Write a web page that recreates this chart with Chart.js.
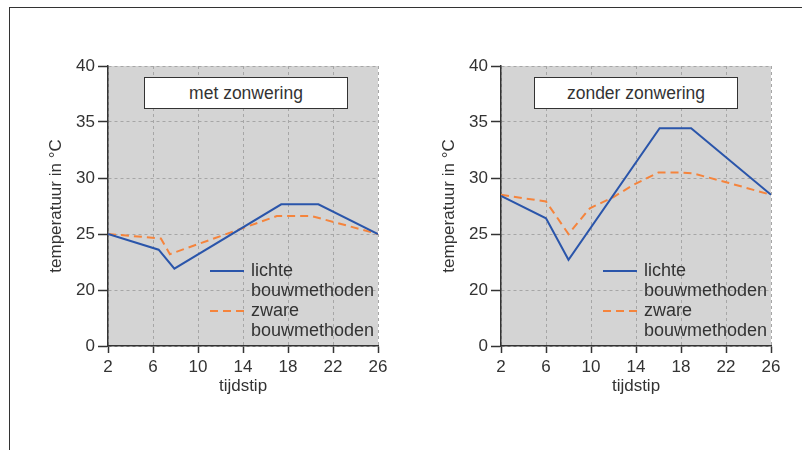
<!DOCTYPE html>
<html>
<head>
<meta charset="utf-8">
<script src="https://cdn.jsdelivr.net/npm/chart.js@4"></script>
<style>
  body { margin: 0; background: #fff; width: 802px; height: 450px; overflow: hidden; position: relative; font-family: "Liberation Sans", Arial, sans-serif; }
  .frame { position: absolute; left: 9px; top: 7px; right: -5px; bottom: -5px; border-left: 1.5px solid #333; border-top: 1.5px solid #333; }
  .panel { position: absolute; top: 0; width: 400px; height: 450px; }
  .box { position: absolute; top: 77px; width: 202px; height: 30px; background: #fff; border: 1.5px solid #333; color: #333; font-size: 17.5px; line-height: 31px; text-align: center; }
</style>
</head>
<body>
<div class="frame"></div>
<div class="panel" style="left:0"><canvas id="chartLeft" width="400" height="450"></canvas></div>
<div class="panel" style="left:393px"><canvas id="chartRight" width="400" height="450"></canvas></div>
<div class="box" style="left:144px">met zonwering</div>
<div class="box" style="left:534px">zonder zonwering</div>
<script>
// tijdstip (uur) en temperatuur
var leftLichtTimes = [2, 6.5, 7.9, 17.4, 20.7, 26];
var leftLichtTemps = [25, 23.6, 21.9, 27.65, 27.65, 25];
var leftZwaarTimes = [2, 6.7, 7.5, 17, 20.1, 26];
var leftZwaarTemps = [25, 24.6, 23.2, 26.6, 26.6, 25];

var rightLichtTimes = [2, 6, 8, 16.1, 18.9, 26];
var rightLichtTemps = [28.4, 26.4, 22.7, 34.45, 34.45, 28.5];
var rightZwaarTimes = [2, 6, 8, 9.9, 12, 13.8, 16, 17.9, 19.1, 22.1, 26];
var rightZwaarTemps = [28.5, 27.9, 25, 27.3, 28.3, 29.4, 30.5, 30.5, 30.4, 29.6, 28.5];

var xTicks = [2, 6, 10, 14, 18, 22, 26];
var yTicks = [15, 20, 25, 30, 35, 40];   // 15 wordt als "0" getoond (onderbroken as)
var seriesLabels = [["lichte", "bouwmethoden"], ["zware", "bouwmethoden"]];

var textColor = "#333";
var fontFamily = "'Liberation Sans', Arial, sans-serif";

function toPoints(times, temps) {
    var pts = [];
    for (var i = 0; i < times.length; i++) {
        pts.push({ x: times[i], y: temps[i] });
    }
    return pts;
}

var plotBackground = {
    id: "plotBackground",
    beforeDraw: function (chart) {
        var a = chart.chartArea;
        var ctx = chart.ctx;
        ctx.save();
        ctx.fillStyle = "#d4d4d4";
        ctx.fillRect(a.left, a.top, a.right - a.left, a.bottom - a.top);
        ctx.restore();
    }
};

var innerLegend = {
    id: "innerLegend",
    afterDatasetsDraw: function (chart) {
        var a = chart.chartArea;
        var ctx = chart.ctx;
        var row = a.top + 205;
        ctx.save();
        ctx.font = "18px " + fontFamily;
        ctx.textBaseline = "middle";
        ctx.textAlign = "left";
        chart.data.datasets.forEach(function (ds) {
            ctx.strokeStyle = ds.borderColor;
            ctx.lineWidth = ds.borderWidth;
            ctx.setLineDash(ds.borderDash || []);
            ctx.beginPath();
            ctx.moveTo(a.left + 102, row);
            ctx.lineTo(a.left + 136, row);
            ctx.stroke();
            ctx.setLineDash([]);
            ctx.fillStyle = textColor;
            ds.label.forEach(function (line, k) {
                ctx.fillText(line, a.left + 143, row + k * 20);
            });
            row += 40;
        });
        ctx.restore();
    }
};

function makeChart(id, lichtTimes, lichtTemps, zwaarTimes, zwaarTemps) {
    var ctx = document.getElementById(id).getContext("2d");
    return new Chart(ctx, {
        type: "line",
        data: {
            datasets: [{
                label: seriesLabels[0],
                data: toPoints(lichtTimes, lichtTemps),
                borderColor: "#2a55aa",
                borderWidth: 2,
                pointRadius: 0,
                tension: 0
            }, {
                label: seriesLabels[1],
                data: toPoints(zwaarTimes, zwaarTemps),
                borderColor: "#f5843c",
                borderWidth: 2,
                borderDash: [8, 5],
                pointRadius: 0,
                tension: 0
            }]
        },
        options: {
            responsive: false,
            animation: false,
            events: [],
            layout: { padding: { left: 46, right: 22, top: 66, bottom: 53 } },
            plugins: { legend: { display: false }, tooltip: { enabled: false } },
            scales: {
                x: {
                    type: "linear",
                    min: 2,
                    max: 26,
                    afterBuildTicks: function (scale) {
                        scale.ticks = xTicks.map(function (v) { return { value: v }; });
                    },
                    afterFit: function (scale) { scale.height = 51; },
                    grid: { color: "#a6a6a6", lineWidth: 1, tickLength: 7, tickColor: textColor, tickWidth: 1.5 },
                    border: { display: true, color: textColor, width: 1.5, dash: [3, 3] },
                    ticks: { color: textColor, padding: 4, maxRotation: 0, font: { family: fontFamily, size: 17 } },
                    title: { display: true, text: "tijdstip", color: textColor, padding: 0, font: { family: fontFamily, size: 17 } }
                },
                y: {
                    min: 15,
                    max: 40,
                    afterBuildTicks: function (scale) {
                        scale.ticks = yTicks.map(function (v) { return { value: v }; });
                    },
                    afterFit: function (scale) { scale.width = 62; },
                    grid: { color: "#a6a6a6", lineWidth: 1, tickLength: 10, tickColor: textColor, tickWidth: 1.5 },
                    border: { display: true, color: textColor, width: 1.5, dash: [3, 3] },
                    ticks: {
                        color: textColor,
                        padding: 3,
                        font: { family: fontFamily, size: 17 },
                        callback: function (v) { return v === 15 ? "0" : v; }
                    },
                    title: { display: true, text: "temperatuur in °C", color: textColor, padding: 0, font: { family: fontFamily, size: 17 } }
                }
            }
        },
        plugins: [plotBackground, innerLegend]
    });
}

makeChart("chartLeft", leftLichtTimes, leftLichtTemps, leftZwaarTimes, leftZwaarTemps);
makeChart("chartRight", rightLichtTimes, rightLichtTemps, rightZwaarTimes, rightZwaarTemps);
</script>
</body>
</html>
